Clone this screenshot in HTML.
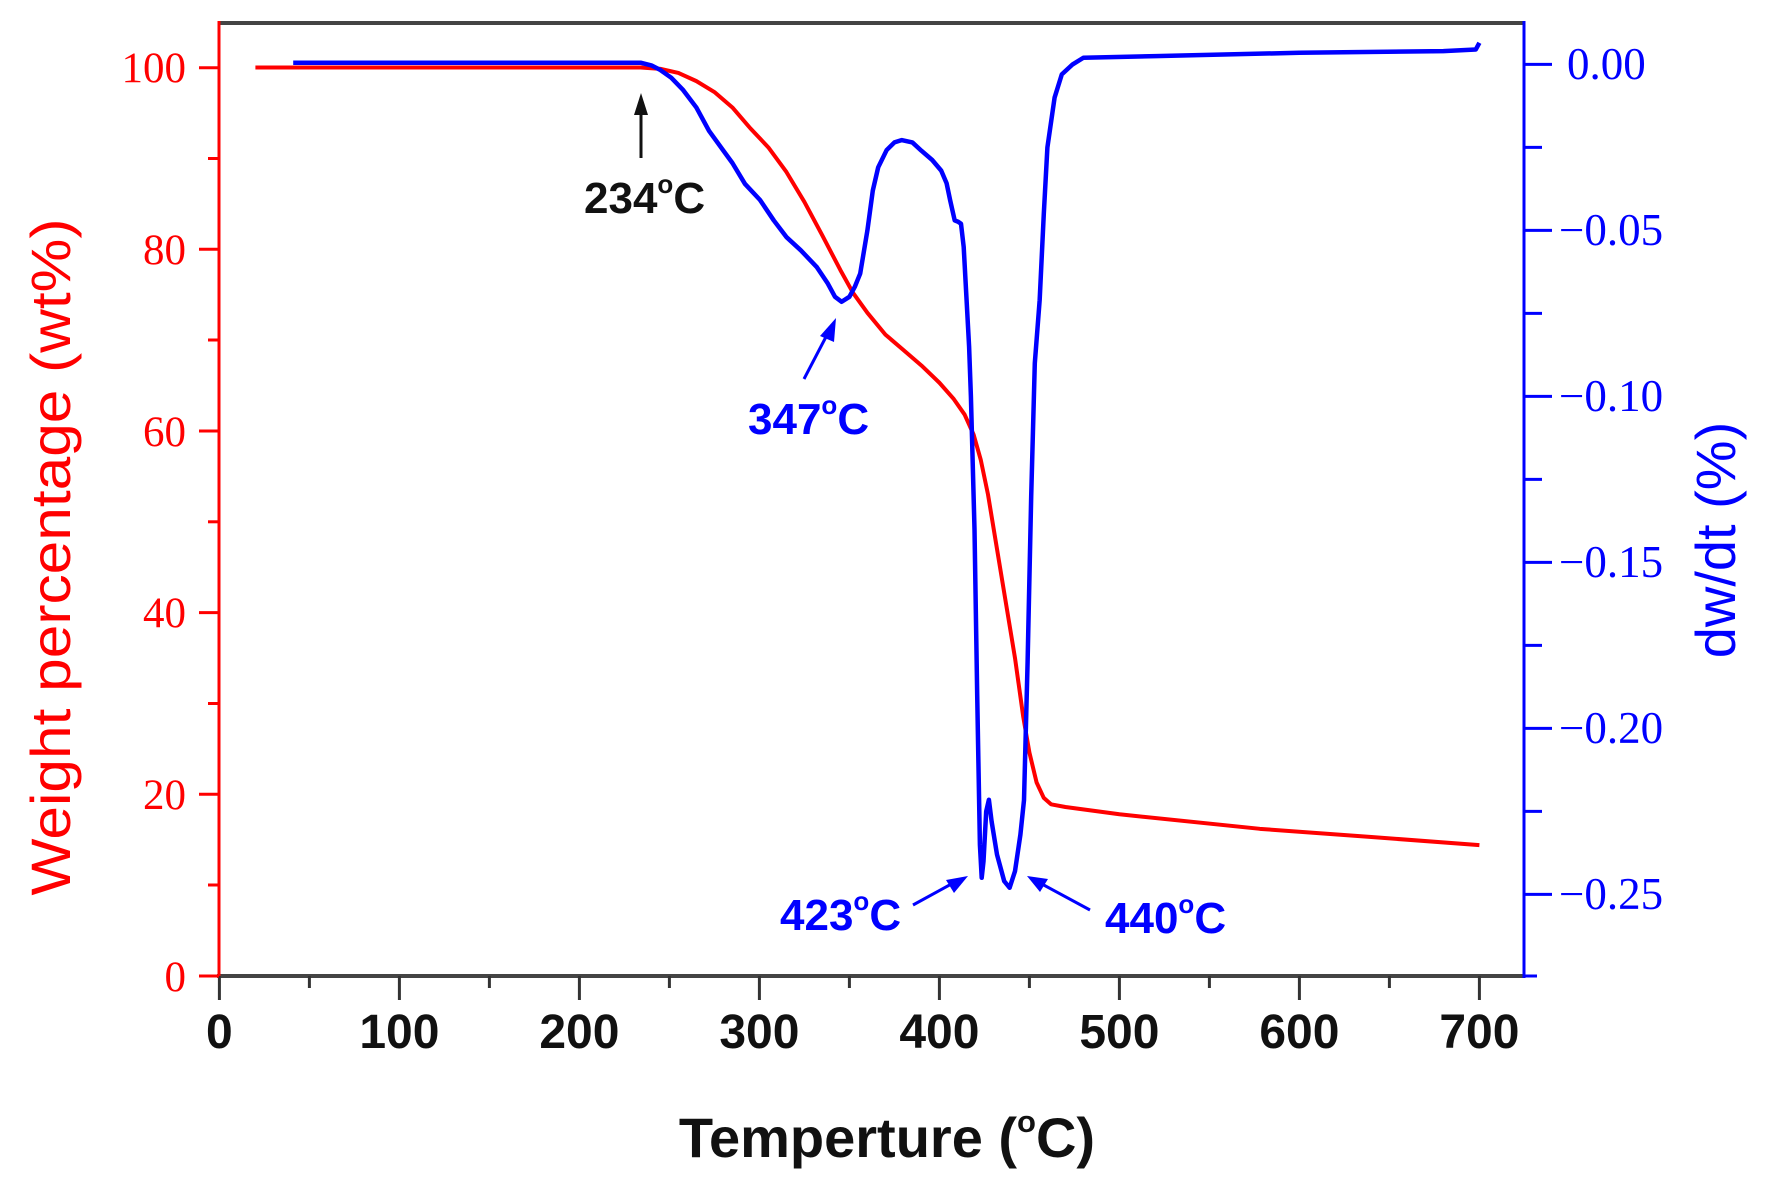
<!DOCTYPE html>
<html><head><meta charset="utf-8"><style>
html,body{margin:0;padding:0;background:#fff;}
svg{display:block;}
</style></head><body>
<svg width="1780" height="1191" viewBox="0 0 1780 1191" xmlns="http://www.w3.org/2000/svg">
<rect width="1780" height="1191" fill="#fff"/>
<!-- frame -->
<line x1="219" y1="23" x2="1524" y2="23" stroke="#444" stroke-width="4"/>
<line x1="217" y1="976" x2="1524" y2="976" stroke="#444" stroke-width="4"/>
<line x1="219" y1="21" x2="219" y2="978" stroke="#f00" stroke-width="3"/>
<line x1="1524" y1="21" x2="1524" y2="978" stroke="#00f" stroke-width="3"/>
<!-- x ticks -->
<g stroke="#333" stroke-width="3">
<line x1="219.4" y1="976" x2="219.4" y2="1000"/><line x1="309.4" y1="976" x2="309.4" y2="988"/>
<line x1="399.4" y1="976" x2="399.4" y2="1000"/><line x1="489.4" y1="976" x2="489.4" y2="988"/>
<line x1="579.4" y1="976" x2="579.4" y2="1000"/><line x1="669.4" y1="976" x2="669.4" y2="988"/>
<line x1="759.4" y1="976" x2="759.4" y2="1000"/><line x1="849.4" y1="976" x2="849.4" y2="988"/>
<line x1="939.4" y1="976" x2="939.4" y2="1000"/><line x1="1029.4" y1="976" x2="1029.4" y2="988"/>
<line x1="1119.4" y1="976" x2="1119.4" y2="1000"/><line x1="1209.4" y1="976" x2="1209.4" y2="988"/>
<line x1="1299.4" y1="976" x2="1299.4" y2="1000"/><line x1="1389.4" y1="976" x2="1389.4" y2="988"/>
<line x1="1479.4" y1="976" x2="1479.4" y2="1000"/>
</g>
<g font-family="Liberation Sans, sans-serif" font-weight="bold" font-size="48" text-anchor="middle" fill="#111">
<text x="219.4" y="1048">0</text><text x="399.4" y="1048">100</text><text x="579.4" y="1048">200</text>
<text x="759.4" y="1048">300</text><text x="939.4" y="1048">400</text><text x="1119.4" y="1048">500</text>
<text x="1299.4" y="1048">600</text><text x="1479.4" y="1048">700</text>
</g>
<text x="887" y="1157" font-family="Liberation Sans, sans-serif" font-weight="bold" font-size="56" text-anchor="middle" fill="#111">Temperture (<tspan font-size="31" dy="-25">o</tspan><tspan dy="25">C)</tspan></text>
<!-- left y ticks -->
<g stroke="#f00" stroke-width="3">
<line x1="199" y1="976" x2="219" y2="976"/><line x1="208" y1="885" x2="219" y2="885"/>
<line x1="199" y1="794.3" x2="219" y2="794.3"/><line x1="208" y1="703.5" x2="219" y2="703.5"/>
<line x1="199" y1="612.6" x2="219" y2="612.6"/><line x1="208" y1="521.8" x2="219" y2="521.8"/>
<line x1="199" y1="431" x2="219" y2="431"/><line x1="208" y1="340" x2="219" y2="340"/>
<line x1="199" y1="249.3" x2="219" y2="249.3"/><line x1="208" y1="158.5" x2="219" y2="158.5"/>
<line x1="199" y1="67.7" x2="219" y2="67.7"/>
</g>
<g font-family="Liberation Serif, serif" font-size="43" text-anchor="end" fill="#f00">
<text x="186" y="82">100</text><text x="186" y="264">80</text><text x="186" y="446">60</text>
<text x="186" y="627">40</text><text x="186" y="809">20</text><text x="186" y="991">0</text>
</g>
<text transform="translate(70,557) rotate(-90)" font-family="Liberation Sans, sans-serif" font-size="56" text-anchor="middle" fill="#f00" textLength="677" lengthAdjust="spacingAndGlyphs">Weight percentage (wt%)</text>
<!-- right ticks -->
<g stroke="#00f" stroke-width="3">
<line x1="1524" y1="64.4" x2="1552" y2="64.4"/><line x1="1524" y1="147.4" x2="1542" y2="147.4"/>
<line x1="1524" y1="230.4" x2="1552" y2="230.4"/><line x1="1524" y1="313.4" x2="1542" y2="313.4"/>
<line x1="1524" y1="396.4" x2="1552" y2="396.4"/><line x1="1524" y1="479.4" x2="1542" y2="479.4"/>
<line x1="1524" y1="562.4" x2="1552" y2="562.4"/><line x1="1524" y1="645.4" x2="1542" y2="645.4"/>
<line x1="1524" y1="728.4" x2="1552" y2="728.4"/><line x1="1524" y1="811.4" x2="1542" y2="811.4"/>
<line x1="1524" y1="894.4" x2="1552" y2="894.4"/><line x1="1524" y1="976" x2="1537" y2="976"/>
</g>
<g font-family="Liberation Serif, serif" font-size="45" fill="#00f">
<text x="1567" y="79">0.00</text>
<text x="1559" y="245">−0.05</text><text x="1559" y="411">−0.10</text><text x="1559" y="577">−0.15</text>
<text x="1559" y="743">−0.20</text><text x="1559" y="909">−0.25</text>
</g>
<text transform="translate(1735,540) rotate(-90)" font-family="Liberation Sans, sans-serif" font-size="56" text-anchor="middle" fill="#00f">dw/dt (%)</text>
<!-- red curve -->
<g transform="translate(219.4,976) scale(1.8,-9.085)">
<polyline fill="none" stroke="#f00" stroke-width="4" vector-effect="non-scaling-stroke" stroke-linejoin="round"
points="20,100 234,100 245,99.85 255,99.4 265,98.5 275,97.3 285,95.6 295,93.3 305,91.2 315,88.5 325,85.2 335,81.5 345,77.7 352,75.2 360,73 370,70.6 380,68.9 390,67.2 400,65.3 408,63.5 414,61.8 419,59.6 423,56.8 427,53 432,47 437,41 442,35 446.6,28.5 450,24.6 454,21.3 458,19.6 462,18.9 470,18.6 500,17.8 578,16.2 640,15.3 700,14.4"/>
</g>
<!-- blue curve -->
<g transform="translate(219.4,64.4) scale(1.8,-3320)">
<polyline fill="none" stroke="#00f" stroke-width="4.5" vector-effect="non-scaling-stroke" stroke-linejoin="round"
points="41,0.0005 234,0.0005 240,-0.0003 245,-0.0017 251,-0.004 257.6,-0.0077 265,-0.013 272,-0.020 280,-0.026 285,-0.0297 292,-0.036 300.3,-0.0408 308,-0.047 315,-0.052 323,-0.056 331.8,-0.061 338,-0.066 342,-0.070 345.7,-0.0715 350,-0.070 353,-0.067 356,-0.063 360,-0.050 363,-0.038 366,-0.031 370.7,-0.0258 375,-0.0235 379,-0.0228 385,-0.0235 390,-0.026 396,-0.0288 401,-0.032 404,-0.0358 406,-0.041 408.5,-0.047 410.4,-0.0474 412,-0.048 413.5,-0.055 415,-0.070 416.5,-0.085 417.5,-0.10 419.5,-0.14 421,-0.19 422.5,-0.235 423.5,-0.245 424.5,-0.24 426,-0.225 427.5,-0.2215 429,-0.228 432,-0.238 436,-0.246 439,-0.248 442,-0.243 445,-0.232 447,-0.2216 449,-0.18 451,-0.13 453,-0.09 455.7,-0.071 458,-0.045 460,-0.025 464,-0.01 468,-0.003 474,0.0 480,0.002 520,0.0025 600,0.0035 680,0.004 698,0.0045 700,0.0065"/>
</g>
<!-- annotations -->
<line x1="641" y1="158" x2="641" y2="110" stroke="#111" stroke-width="3"/>
<polygon points="641,93 634,115 648,115" fill="#111"/>
<text x="584" y="213" font-family="Liberation Sans, sans-serif" font-weight="bold" font-size="44" fill="#111">234<tspan font-size="26" dy="-20">o</tspan><tspan dy="20">C</tspan></text>
<line x1="804" y1="379" x2="828" y2="333" stroke="#00f" stroke-width="3"/>
<polygon points="836,318 820,336 834,342" fill="#00f"/>
<text x="748" y="434" font-family="Liberation Sans, sans-serif" font-weight="bold" font-size="44" fill="#00f">347<tspan font-size="26" dy="-20">o</tspan><tspan dy="20">C</tspan></text>
<line x1="913" y1="905" x2="955" y2="882" stroke="#00f" stroke-width="3"/>
<polygon points="968,876 946,880 954,893" fill="#00f"/>
<line x1="1090" y1="910" x2="1040" y2="883" stroke="#00f" stroke-width="3"/>
<polygon points="1027,876 1040,892 1048,879" fill="#00f"/>
<text x="780" y="930" font-family="Liberation Sans, sans-serif" font-weight="bold" font-size="44" fill="#00f">423<tspan font-size="26" dy="-20">o</tspan><tspan dy="20">C</tspan></text>
<text x="1105" y="933" font-family="Liberation Sans, sans-serif" font-weight="bold" font-size="44" fill="#00f">440<tspan font-size="26" dy="-20">o</tspan><tspan dy="20">C</tspan></text>
</svg>
</body></html>
